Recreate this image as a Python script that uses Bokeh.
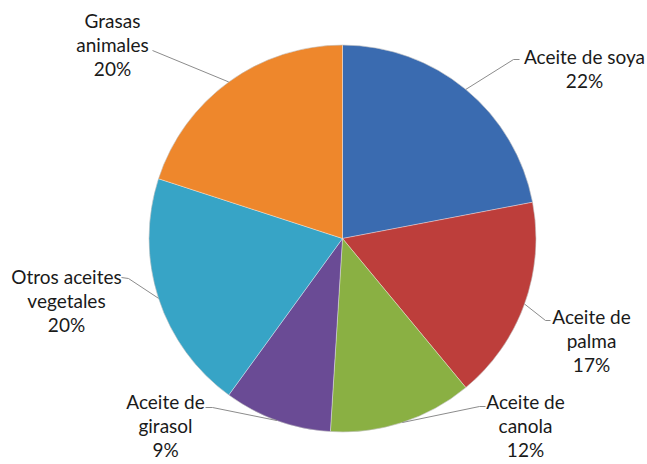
import math
from bokeh.plotting import figure
from bokeh.models import Range1d, ColumnDataSource
from bokeh.core.properties import value
from bokeh.embed import file_html
from bokeh.resources import INLINE

# ---- data ----
categories = ["Aceite de soya", "Aceite de palma", "Aceite de canola",
              "Aceite de girasol", "Otros aceites vegetales", "Grasas animales"]
shares = [22, 17, 12, 9, 20, 20]
pct_labels = ["22%", "17%", "12%", "9%", "20%", "20%"]
colors = ["#3A6BB0", "#BD3E3B", "#8AB043", "#6A4B95", "#37A4C6", "#EE872C"]

# ---- layout (pixels from top-left) ----
W, H = 647, 464
CX, CY, R = 342, 238, 193.5
FONT = "Lato"
FSIZE = "19px"
LINE_GAP = 24

# how each category label is wrapped
label_lines = [
    ["Aceite de soya"],
    ["Aceite de", "palma"],
    ["Aceite de", "canola"],
    ["Aceite de", "girasol"],
    ["Otros aceites", "vegetales"],
    ["Grasas", "animales"],
]
# text block center x, first line y
label_pos = [(584, 56), (591, 316), (525, 401), (165, 401), (66, 276), (112, 20)]
# leader line: label end point, knee point (then to slice edge)
leader_pts = [((519, 59), (513, 59)),
              ((550, 320), (545, 320)),
              ((485, 406), (479, 406)),
              ((205, 407), (212, 407)),
              ((121, 277), (128, 278)),
              ((152, 50), (152, 50))]

def Y(ypx):
    return H - ypx

p = figure(width=W, height=H, x_range=Range1d(0, W), y_range=Range1d(0, H),
           output_backend="svg", toolbar_location=None,
           x_axis_location=None, y_axis_location=None, min_border=0)
p.grid.visible = False
p.outline_line_color = None
p.background_fill_color = "white"
p.border_fill_color = "white"

total = float(sum(shares))
starts, ends, mids = [], [], []
cum = 0.0
for s in shares:
    a0 = 90 - cum / total * 360
    cum += s
    a1 = 90 - cum / total * 360
    starts.append(a0)
    ends.append(a1)
    mids.append((a0 + a1) / 2)

src = ColumnDataSource(dict(start=starts, end=ends, color=colors, cat=categories))
p.wedge(x=CX, y=Y(CY), radius=R, start_angle="start", end_angle="end",
        start_angle_units="deg", end_angle_units="deg", direction="clock",
        fill_color="color", line_color="white", line_alpha=0.35, line_width=1,
        source=src)
# soft rim
p.circle(x=CX, y=Y(CY), radius=R, fill_color=None, line_color="#9a9a9a",
         line_alpha=0.35, line_width=1)

# leader lines
for i, m in enumerate(mids):
    ex = CX + R * math.cos(math.radians(m))
    ey = Y(CY) + R * math.sin(math.radians(m))
    (lx, ly), (kx, ky) = leader_pts[i]
    p.line(x=[lx, kx, ex], y=[Y(ly), Y(ky), ey], line_color="#8c8c8c", line_width=1)

# labels
tx, ty, tt = [], [], []
for i in range(len(categories)):
    cx, y0 = label_pos[i]
    lines = label_lines[i] + [pct_labels[i]]
    for j, t in enumerate(lines):
        tx.append(cx)
        ty.append(Y(y0 + j * LINE_GAP))
        tt.append(t)
p.text(x=tx, y=ty, text=tt, text_font=value(FONT), text_font_size=FSIZE,
       text_color="#1a1a1a", text_align="center", text_baseline="middle")

open("out.html", "w").write(file_html(p, INLINE))
